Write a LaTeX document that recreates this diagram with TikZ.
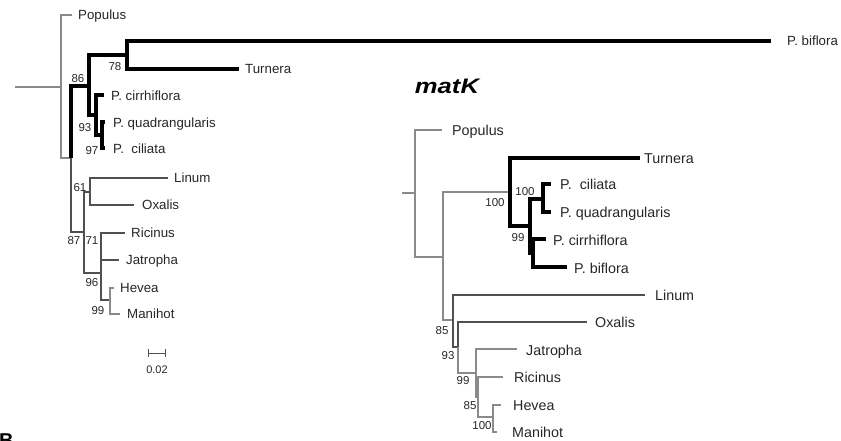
\documentclass[tikz,border=0pt]{standalone}
\usepackage{fontspec}
\setmainfont{Liberation Sans}
\usepackage{graphicx}
\definecolor{gcol}{HTML}{8A8A8A}
\definecolor{dcol}{HTML}{505050}
\definecolor{tcol}{HTML}{262626}
\begin{document}
\begin{tikzpicture}[x=1pt,y=-1pt,
  gl/.style={draw=gcol, line width=1.1pt},
  dl/.style={draw=dcol, line width=1.1pt},
  tk/.style={draw=black, line width=3.6pt},
  lfL/.style={anchor=west, inner sep=0pt, text=tcol, font=\fontsize{13.3}{16}\selectfont, text height=9.5pt, text depth=0pt},
  lfR/.style={anchor=west, inner sep=0pt, text=tcol, font=\fontsize{14.3}{17}\selectfont, text height=10.2pt, text depth=0pt},
  bs/.style={inner sep=0pt, text=tcol, font=\fontsize{11.5}{14}\selectfont, text height=8.2pt, text depth=0pt},
]
\useasboundingbox (0,0) rectangle (841,440);

% ---------------- left tree ----------------
\coordinate (L0) at (15,87);
\coordinate (LR) at (61,87);
\coordinate (LA) at (71,158);
\coordinate (L86) at (89,86);
\coordinate (L78) at (127,55);
\coordinate (L93) at (96,115);
\coordinate (L97) at (102,135);
\coordinate (L87) at (84,232);
\coordinate (L61) at (90,192);
\coordinate (L96) at (101,273);
\coordinate (L99) at (110,300);

\coordinate (lPop) at (72,15);
\coordinate (lBif) at (771,41);
\coordinate (lTur) at (239,69);
\coordinate (lCir) at (104,95);
\coordinate (lQua) at (105,122);
\coordinate (lCil) at (105,148);
\coordinate (lLin) at (168,178);
\coordinate (lOxa) at (134,205);
\coordinate (lRic) at (125,233);
\coordinate (lJat) at (119,260);
\coordinate (lHev) at (114,288);
\coordinate (lMan) at (120,314);

\draw[gl] (L0) -- (LR);
\draw[gl] (LR) |- (lPop);
\draw[gl] (LR) |- (LA);
\draw[tk] (LA) |- (L86);
\draw[dl] (LA) |- (L87);
\draw[tk] (L86) |- (L78);
\draw[tk] (L86) |- (L93);
\draw[tk] (L78) |- (lBif);
\draw[tk] (L78) |- (lTur);
\draw[tk] (L93) |- (lCir);
\draw[tk] (L93) |- (L97);
\draw[tk] (L97) |- (lQua);
\draw[tk] (L97) |- (lCil);
\draw[dl] (L87) |- (L61);
\draw[dl] (L87) |- (L96);
\draw[dl] (L61) |- (lLin);
\draw[dl] (L61) |- (lOxa);
\draw[dl] (L96) |- (lRic);
\draw[dl] (L96) |- (lJat);
\draw[dl] (L96) |- (L99);
\draw[gl] (L99) |- (lHev);
\draw[gl] (L99) |- (lMan);

\node[lfL] (tlPop) at (78,15) {Populus};
\node[lfL] (tlBif) at (787,41) {P. biflora};
\node[lfL] (tlTur) at (245,69) {Turnera};
\node[lfL] (tlCir) at (111,96) {P. cirrhiflora};
\node[lfL] (tlQua) at (113,123) {P. quadrangularis};
\node[lfL] (tlCil) at (113,149) {P.\ \ ciliata};
\node[lfL] (tlLin) at (174,178) {Linum};
\node[lfL] (tlOxa) at (142,205) {Oxalis};
\node[lfL] (tlRic) at (131,233) {Ricinus};
\node[lfL] (tlJat) at (126,260) {Jatropha};
\node[lfL] (tlHev) at (120,288) {Hevea};
\node[lfL] (tlMan) at (127,314) {Manihot};

\node[bs] (b86) at (78,78) {86};
\node[bs] (b78) at (115,66) {78};
\node[bs] (b93) at (85,127) {93};
\node[bs] (b97) at (92,150) {97};
\node[bs] (b61) at (80,187) {61};
\node[bs] (b87) at (74,240) {87};
\node[bs] (b71) at (92,240) {71};
\node[bs] (b96) at (92,282) {96};
\node[bs] (b99) at (98,310) {99};

% scale bar
\coordinate (sb1) at (148,353);
\coordinate (sb2) at (165,353);
\draw[dl, line width=0.9pt] (sb1) -- (sb2);
\draw[dl, line width=0.9pt] ([yshift=-4pt]sb1) -- ([yshift=4pt]sb1);
\draw[dl, line width=0.9pt] ([yshift=-4pt]sb2) -- ([yshift=4pt]sb2);
\node[bs, font=\fontsize{11}{13}\selectfont] (sbt) at (157,369) {0.02};

% ---------------- title ----------------
\node[inner sep=0pt, text=black, font=\fontsize{21}{24}\selectfont\bfseries\itshape] (title) at (447,86) {\scalebox{1.22}[1]{matK}};

% ---------------- right tree ----------------
\coordinate (R0) at (402,193);
\coordinate (RR) at (415,193);
\coordinate (RA) at (443,257);
\coordinate (RP) at (510,192);
\coordinate (R99) at (530,226);
\coordinate (R100) at (543,199);
\coordinate (Rs) at (533,253);
\coordinate (R85) at (453,320);
\coordinate (R93) at (458,347);
\coordinate (R99b) at (476,373);
\coordinate (R85b) at (478,397);
\coordinate (R100b) at (493,417);

\coordinate (rPop) at (442,130);
\coordinate (rTur) at (640,158);
\coordinate (rCil) at (551,184);
\coordinate (rQua) at (551,212);
\coordinate (rCir) at (546,239);
\coordinate (rBif) at (567,267);
\coordinate (rLin) at (645,295);
\coordinate (rOxa) at (587,322);
\coordinate (rJat) at (517,349);
\coordinate (rRic) at (503,377);
\coordinate (rHev) at (501,405);
\coordinate (rMan) at (497,432);

\draw[gl] (R0) -- (RR);
\draw[gl] (RR) |- (rPop);
\draw[gl] (RR) |- (RA);
\draw[gl] (RA) |- (RP);
\draw[gl] (RA) |- (R85);
\draw[tk] (RP) |- (rTur);
\draw[tk] (RP) |- (R99);
\draw[tk] (R99) |- (R100);
\draw[tk] (R99) |- (Rs);
\draw[tk] (R100) |- (rCil);
\draw[tk] (R100) |- (rQua);
\draw[tk] (Rs) |- (rCir);
\draw[tk] (Rs) |- (rBif);
\draw[dl] (R85) |- (rLin);
\draw[dl] (R85) |- (R93);
\draw[dl] (R93) |- (rOxa);
\draw[gl] (R93) |- (R99b);
\draw[gl] (R99b) |- (rJat);
\draw[gl] (R99b) |- (R85b);
\draw[gl] (R85b) |- (rRic);
\draw[gl] (R85b) |- (R100b);
\draw[gl] (R100b) |- (rHev);
\draw[gl] (R100b) |- (rMan);

\node[lfR] (trPop) at (452,130) {Populus};
\node[lfR] (trTur) at (644,158) {Turnera};
\node[lfR] (trCil) at (560,184) {P.\ \ ciliata};
\node[lfR] (trQua) at (560,212) {P. quadrangularis};
\node[lfR] (trCir) at (553,240) {P. cirrhiflora};
\node[lfR] (trBif) at (574,268) {P. biflora};
\node[lfR] (trLin) at (655,295) {Linum};
\node[lfR] (trOxa) at (595,322) {Oxalis};
\node[lfR] (trJat) at (526,350) {Jatropha};
\node[lfR] (trRic) at (514,377) {Ricinus};
\node[lfR] (trHev) at (513,405) {Hevea};
\node[lfR] (trMan) at (512,432) {Manihot};

\node[bs] (c100a) at (525,191) {100};
\node[bs] (c100b) at (495,202) {100};
\node[bs] (c99a) at (518,237) {99};
\node[bs] (c85a) at (442,330) {85};
\node[bs] (c93) at (448,355) {93};
\node[bs] (c99b) at (463,380) {99};
\node[bs] (c85b) at (470,405) {85};
\node[bs] (c100c) at (482,425) {100};

% panel letter (cut off at bottom)
\node[anchor=north west, inner sep=0pt, text=black, font=\fontsize{20}{24}\selectfont\bfseries, text height=14.3pt, text depth=0pt] (panelB) at (-1,433) {B};
\end{tikzpicture}
\end{document}
